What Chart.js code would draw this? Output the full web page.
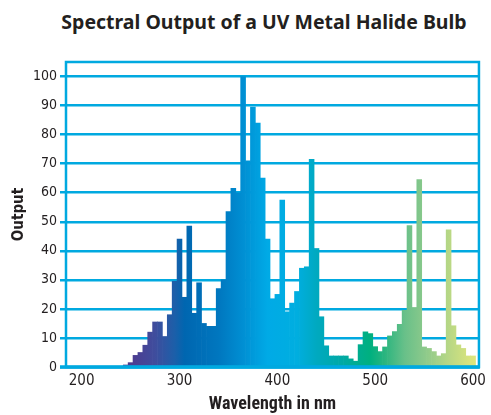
<!DOCTYPE html>
<html>
<head>
<meta charset="utf-8">
<script src="https://cdn.jsdelivr.net/npm/chart.js"></script>
<style>
  body { margin: 0; background: #fff; }
  #wrap { position: relative; width: 491px; height: 415px; }
  #title {
    position: absolute; left: 37px; width: 454px; top: 10px;
    text-align: center; font: 700 19.5px "Noto Sans", sans-serif;
    line-height: 24px; color: #231f20;
  }
  canvas { position: absolute; left: 0; top: 0; }
</style>
</head>
<body>
<div id="wrap">
  <div id="title">Spectral Output of a UV Metal Halide Bulb</div>
  <canvas id="spectrumChart" width="491" height="415"></canvas>
</div>
<script>
// 5 nm bins, centre wavelength in nm
const wavelengths = [
  245, 250, 255, 260, 265, 270, 275, 280, 285, 290, 295, 300,
  305, 310, 315, 320, 325, 330, 335, 340, 345, 350, 355, 360,
  365, 370, 375, 380, 385, 390, 395, 400, 405, 410, 415, 420,
  425, 430, 435, 440, 445, 450, 455, 460, 465, 470, 475, 480,
  485, 490, 495, 500, 505, 510, 515, 520, 525, 530, 535, 540,
  545, 550, 555, 560, 565, 570, 575, 580, 585, 590, 595, 600
];
// relative output, peak = 100
const output = [
  0.7, 1.5, 4, 5, 7.5, 12, 15.5, 15.5, 10.5, 18, 29.5, 44,
  24, 48.5, 18.5, 29, 15, 14, 14, 27, 30, 53.5, 61.5, 60,
  100, 71, 89.5, 84, 65, 44, 23.5, 25, 57.5, 19, 22, 26,
  34, 34.5, 71.5, 40.8, 17.3, 7.3, 3.8, 3.8, 3.8, 3.8, 2.8, 2,
  7.7, 12.1, 11.5, 7, 5.3, 6.9, 10.7, 12.2, 14.7, 19.5, 48.7, 20.5,
  64.5, 6.9, 6.4, 5.3, 3.8, 4.6, 47.2, 14.2, 7.6, 6.4, 3.8, 3.8
];
const wavelengthTicks = [200, 300, 400, 500, 600];
const outputTicks = [0, 10, 20, 30, 40, 50, 60, 70, 80, 90, 100];

const axisBlue = '#00a9e0';
const inkColor = '#231f20';

// colour ramp across the spectrum: [nm, colour]
const spectrumStops = [
  [245, '#51388d'], [275, '#3f4d9d'], [295, '#1c5fa9'], [305, '#0066b0'],
  [340, '#0077bf'], [365, '#008fd3'], [390, '#00aae6'], [420, '#00aee0'],
  [440, '#00a9c0'], [465, '#00a9a6'], [495, '#00b07f'], [510, '#2bb57f'],
  [530, '#68c089'], [550, '#8bc98b'], [575, '#b7d785'], [600, '#dde57c']
];

let spectrumGradient = null;
const barColor = (context) => {
  const chart = context.chart;
  if (!chart.chartArea) return spectrumStops[0][1];
  if (!spectrumGradient) {
    const xs = chart.scales.x;
    const x0 = xs.getPixelForValue(spectrumStops[0][0]);
    const x1 = xs.getPixelForValue(spectrumStops[spectrumStops.length - 1][0]);
    spectrumGradient = chart.ctx.createLinearGradient(x0, 0, x1, 0);
    spectrumStops.forEach(([nm, color]) => {
      spectrumGradient.addColorStop((xs.getPixelForValue(nm) - x0) / (x1 - x0), color);
    });
  }
  return spectrumGradient;
};

// blue frame round the plot area, drawn over the bars
const plotFrame = {
  id: 'plotFrame',
  afterDatasetsDraw(chart) {
    const { ctx, chartArea: { left, top, right, bottom } } = chart;
    ctx.save();
    ctx.strokeStyle = axisBlue;
    ctx.lineWidth = 2.5;
    ctx.strokeRect(left, top, right - left, bottom - top);
    ctx.lineWidth = 3.5;
    ctx.beginPath();
    ctx.moveTo(left - 6, bottom);
    ctx.lineTo(right + 1, bottom);
    ctx.stroke();
    ctx.restore();
  }
};

const ctx = document.getElementById('spectrumChart');
new Chart(ctx, {
  type: 'bar',
  data: {
    datasets: [{
      label: 'Output',
      data: wavelengths.map((nm, i) => ({ x: nm, y: output[i] })),
      backgroundColor: barColor,
      borderWidth: 0,
      barPercentage: 1,
      categoryPercentage: 1
    }]
  },
  options: {
    responsive: false,
    animation: false,
    layout: { padding: { top: 62, right: 3 } },
    scales: {
      x: {
        type: 'linear',
        offset: false,
        min: 184,
        max: 606,
        afterFit: (scale) => { scale.height = 48; },
        afterBuildTicks: (scale) => { scale.ticks = wavelengthTicks.map(v => ({ value: v })); },
        grid: { display: false, drawTicks: false },
        border: { display: false },
        ticks: { color: inkColor, padding: 5, font: { family: '"DejaVu Sans"', size: 15, weight: 'normal condensed' } },
        title: {
          display: true,
          text: 'Wavelength in nm',
          color: inkColor,
          padding: { top: 0, bottom: 0 },
          font: { family: 'Roboto', size: 18, weight: 'bold condensed' }
        }
      },
      y: {
        min: 0,
        max: 105,
        afterFit: (scale) => { scale.width = 66; },
        afterBuildTicks: (scale) => { scale.ticks = outputTicks.map(v => ({ value: v })); },
        grid: { color: axisBlue, lineWidth: 2.5, tickLength: 6 },
        border: { display: false },
        ticks: { color: inkColor, padding: 3, font: { family: '"DejaVu Sans"', size: 14, weight: 'normal condensed' } },
        title: {
          display: true,
          text: 'Output',
          color: inkColor,
          padding: { top: 10, bottom: 0 },
          font: { family: '"DejaVu Sans"', size: 15, weight: 'bold condensed' }
        }
      }
    },
    plugins: {
      legend: { display: false },
      tooltip: { enabled: false }
    }
  },
  plugins: [plotFrame]
});
</script>
</body>
</html>
